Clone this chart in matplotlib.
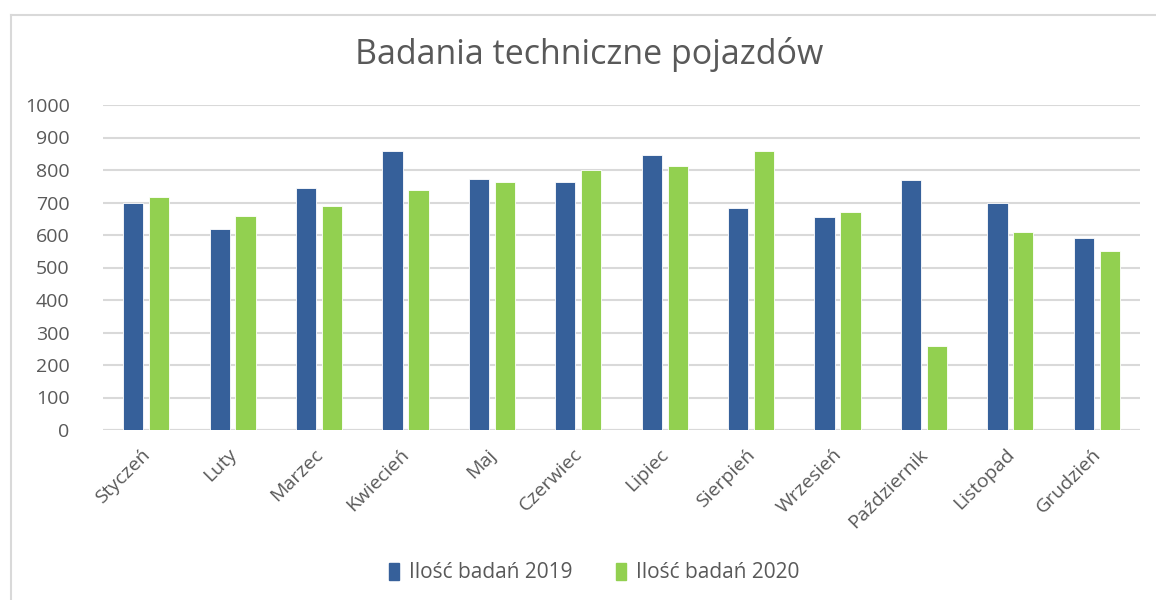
import matplotlib
matplotlib.use("Agg")
import matplotlib.pyplot as plt
import numpy as np
from matplotlib.lines import Line2D

months = ["Styczeń", "Luty", "Marzec", "Kwiecień", "Maj", "Czerwiec", "Lipiec",
          "Sierpień", "Wrzesień", "Październik", "Listopad", "Grudzień"]
values_2019 = [700, 620, 745, 858, 773, 762, 847, 683, 654, 768, 700, 591]
values_2020 = [716, 660, 690, 740, 762, 801, 812, 858, 670, 260, 608, 551]
series_names = ["Ilość badań 2019", "Ilość badań 2020"]
yticks = [0, 100, 200, 300, 400, 500, 600, 700, 800, 900, 1000]
title = "Badania techniczne pojazdów"

plt.rcParams['font.family'] = ['Open Sans', 'DejaVu Sans']
blue = "#36609A"
green = "#92D050"
txt = "#595959"
grid = "#D9D9D9"

fig = plt.figure(figsize=(11.56, 6.0), dpi=100)
ax = fig.add_axes([103/1156, 1-430/600, (1140-103)/1156, (430-105)/600])

x = np.arange(len(months))
w = 0.235
off = 0.15
ax.bar(x - off, values_2019, width=w, color=blue, edgecolor="white", linewidth=0.6,
       label=series_names[0], zorder=3)
ax.bar(x + off, values_2020, width=w, color=green, edgecolor="white", linewidth=0.6,
       label=series_names[1], zorder=3)

ax.set_xlim(-0.5, len(months) - 0.5)
ax.set_ylim(0, 1000)
ax.set_yticks(yticks)
ax.set_yticklabels([str(v) for v in yticks], fontsize=14, color=txt)
ax.yaxis.grid(True, color=grid, linewidth=1.5, zorder=0)
ax.set_axisbelow(True)
for s in ["top", "right", "left", "bottom"]:
    ax.spines[s].set_visible(False)
ax.axhline(0, color=grid, linewidth=1.5, zorder=1)
ax.tick_params(axis="y", length=0, pad=24)
ax.tick_params(axis="x", length=0, pad=11)
ax.set_xticks(x - 0.06)
ax.set_xticklabels(months, rotation=45, ha="right", rotation_mode="anchor",
                   fontsize=14, color=txt)

fig.text(589/1156, 1-55/600, title, ha="center", va="center", fontsize=24.5, color=txt)

handles = [plt.Rectangle((0, 0), 1, 1, color=blue), plt.Rectangle((0, 0), 1, 1, color=green)]
fig.legend(handles, series_names, loc="center", bbox_to_anchor=(594/1156, 1-573/600),
           ncol=2, frameon=False, fontsize=15, labelcolor=txt,
           handlelength=0.5, handleheight=0.85, handletextpad=0.45, columnspacing=2.1)

# chart border (cropped)
fig.add_artist(Line2D([11/1156, 11/1156], [0, 1-15/600], color=grid, linewidth=1.5,
                      transform=fig.transFigure))
fig.add_artist(Line2D([11/1156, 1], [1-15/600, 1-15/600], color=grid, linewidth=1.5,
                      transform=fig.transFigure))

fig.savefig("out.png", dpi=100)
